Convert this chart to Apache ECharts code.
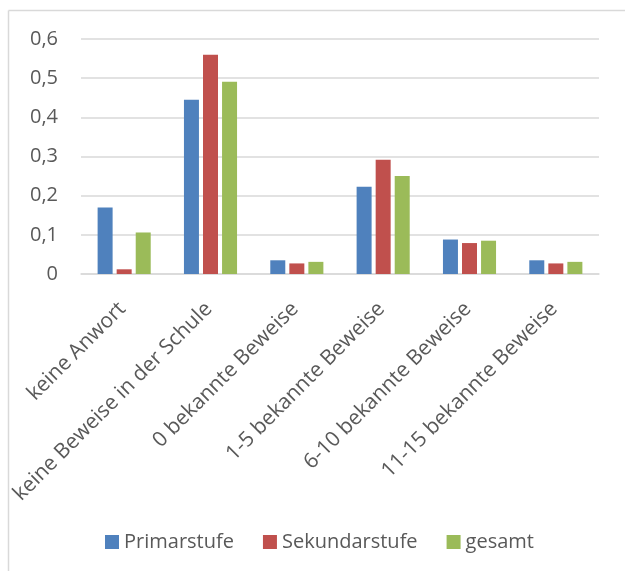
<!DOCTYPE html>
<html>
<head>
<meta charset="utf-8">
<script src="https://cdn.jsdelivr.net/npm/echarts@6/dist/echarts.min.js"></script>
<style>
  html, body { margin: 0; padding: 0; background: #ffffff; }
  #chart { width: 625px; height: 571px; }
</style>
</head>
<body>
<div id="chart"></div>
<script>
// Kategorien der Antworten
const categories = [
  'keine Anwort',
  'keine Beweise in der Schule',
  '0 bekannte Beweise',
  '1-5 bekannte Beweise',
  '6-10 bekannte Beweise',
  '11-15 bekannte Beweise'
];

// Anteile je Schulstufe
const primarstufe   = [0.170, 0.445, 0.035, 0.223, 0.088, 0.035];
const sekundarstufe = [0.012, 0.560, 0.027, 0.292, 0.079, 0.027];
const gesamt        = [0.106, 0.491, 0.031, 0.250, 0.085, 0.031];

// Beschriftung der y-Achse (deutsches Dezimalkomma)
const yTickLabels = ['0', '0,1', '0,2', '0,3', '0,4', '0,5', '0,6'];

const seriesNames = ['Primarstufe', 'Sekundarstufe', 'gesamt'];
const seriesColors = ['#4f81bd', '#c0504d', '#9bbb59'];
const seriesData = [primarstufe, sekundarstufe, gesamt];

const FONT = '"Open Sans", "Liberation Sans", sans-serif';
const TEXT = '#595959';
const LINE = '#d9d9d9';

const chart = echarts.init(document.getElementById('chart'), null, { renderer: 'canvas' });

chart.setOption({
  backgroundColor: '#ffffff',
  animation: false,
  textStyle: { fontFamily: FONT },
  graphic: [
    // Rahmen des Diagrammbereichs
    { type: 'line', shape: { x1: 8.5, y1: 10.5, x2: 625, y2: 10.5 },
      style: { stroke: LINE, lineWidth: 1.5 } },
    { type: 'line', shape: { x1: 8.5, y1: 10.5, x2: 8.5, y2: 571 },
      style: { stroke: LINE, lineWidth: 1.5 } }
  ],
  grid: { left: 81, right: 26, top: 39, bottom: 297, containLabel: false },
  legend: {
    data: seriesNames,
    left: 100,
    top: 527,
    itemWidth: 14,
    itemHeight: 14,
    itemGap: 29,
    icon: 'rect',
    textStyle: { color: TEXT, fontSize: 20, fontFamily: FONT }
  },
  xAxis: {
    type: 'category',
    data: categories,
    axisLine: { show: true, lineStyle: { color: LINE, width: 1.5 } },
    axisTick: { show: false },
    axisLabel: {
      interval: 0,
      rotate: 45,
      align: 'right',
      verticalAlign: 'top',
      margin: 15,
      padding: [0, 13, 0, 0],
      color: TEXT,
      fontSize: 21,
      fontFamily: FONT
    }
  },
  yAxis: {
    type: 'value',
    min: 0,
    max: 0.6,
    interval: 0.1,
    axisLine: { show: false },
    axisTick: { show: false },
    splitLine: { lineStyle: { color: LINE, width: 1.5 } },
    axisLabel: {
      margin: 23,
      color: TEXT,
      fontSize: 20,
      fontFamily: FONT,
      formatter: function (v) { return yTickLabels[Math.round(v * 10)]; }
    }
  },
  series: seriesNames.map(function (name, i) {
    return {
      name: name,
      type: 'bar',
      data: seriesData[i],
      barWidth: 15,
      barGap: '27%',
      itemStyle: { color: seriesColors[i] }
    };
  })
});
</script>
</body>
</html>
